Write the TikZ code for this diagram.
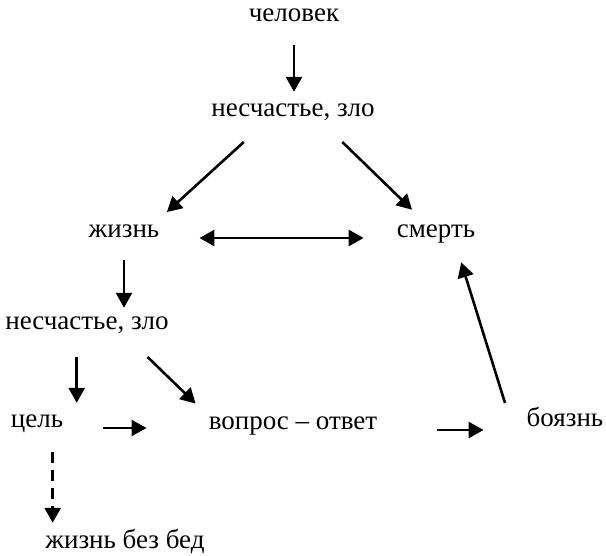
\documentclass[tikz,border=0pt]{standalone}
\usepackage{fontspec}
\setmainfont{Liberation Serif}
\usetikzlibrary{arrows.meta}

\begin{document}
\begin{tikzpicture}[x=1pt, y=-1pt,
    lbl/.style={anchor=base, inner sep=0pt, text height=19pt, text depth=6pt,
        font=\fontsize{27}{30}\selectfont},
    arr/.style={line width=2.6pt, -{Triangle[length=15pt, width=16pt]}}]
    \useasboundingbox (0,0) rectangle (606,556);

    % Слова
    \node[lbl] (chel)   at (294,22)  {человек};
    \node[lbl] (nes1)   at (293,117) {несчастье, зло};
    \node[lbl] (zhizn)  at (124,238) {жизнь};
    \node[lbl] (smert)  at (436,238) {смерть};
    \node[lbl] (nes2)   at (87,330)  {несчастье, зло};
    \node[lbl] (tsel)   at (37,428)  {цель};
    \node[lbl] (vopros) at (293,430) {вопрос – ответ};
    \node[lbl] (boyazn) at (565,427) {боязнь};
    \node[lbl] (zhbb)   at (125,548) {жизнь без бед};

    % Стрелки
    \draw[arr, shorten <=17pt, shorten >=6pt] (chel.south) -- (chel.south |- nes1.north);
    \draw[arr, shorten <=28pt, shorten >=10pt] (nes1.204) -- (zhizn.north east);
    \draw[arr, shorten <=27pt, shorten >=13pt] (nes1.337) -- (smert.139);
    \draw[arr, {Triangle[length=15pt, width=16pt]}-{Triangle[length=15pt, width=16pt]},
        shorten <=40pt, shorten >=33pt] (zhizn.base east) -- (smert.base west);
    \draw[arr, shorten <=16pt, shorten >=3pt] (zhizn.south) -- (zhizn.south |- nes2.north);
    \draw[arr, shorten <=21pt, shorten >=6pt] (nes2.231) -- (nes2.231 |- tsel.north);
    \draw[arr, shorten <=30pt, shorten >=18pt] (nes2.342) -- (vopros.175);
    \draw[arr, shorten <=40pt, shorten >=62pt] (tsel.base east) -- (tsel.base east -| vopros.west);
    \draw[arr, shorten <=60pt, shorten >=43pt] (vopros.base east) -- (vopros.base east -| boyazn.west);
    \draw[arr, shorten <=5pt, shorten >=19pt] ([xshift=-20pt]boyazn.north west) -- (smert.327);
    \draw[arr, dash pattern=on 11pt off 7pt, shorten <=18pt, shorten >=6pt]
        (tsel.321) -- (tsel.321 |- zhbb.north);
\end{tikzpicture}
\end{document}
